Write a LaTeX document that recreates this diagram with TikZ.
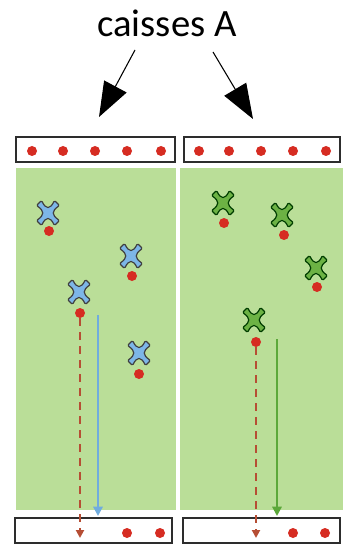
\documentclass[tikz,border=0pt]{standalone}
\usepackage{fontspec}
\setmainfont{Carlito}
\usetikzlibrary{arrows.meta}
\definecolor{field}{RGB}{186,222,152}
\definecolor{bluefill}{RGB}{125,182,232}
\definecolor{blueline}{RGB}{112,172,222}
\definecolor{greenfill}{RGB}{108,178,68}
\definecolor{greenline}{RGB}{92,168,58}
\definecolor{dotred}{RGB}{214,44,34}
\definecolor{dashred}{RGB}{182,78,52}
\definecolor{boxline}{RGB}{45,45,45}
\tikzset{
  reddot/.style={circle,fill=dotred,draw=none,minimum size=7.5pt,inner sep=0pt},
  caisse/.style={rectangle,draw=boxline,line width=1.5pt,fill=white,inner sep=0pt,minimum height=18.75pt},
  fieldbox/.style={fill=field,draw=none},
  runpath/.style={dashred,line width=1.9pt,dash pattern=on 6pt off 4.5pt,-{Triangle[length=6pt,width=6pt]}},
  bluerun/.style={blueline,line width=1.6pt,-{Triangle[length=7pt,width=7pt]}},
  greenrun/.style={greenline,line width=1.6pt,-{Triangle[length=7pt,width=7pt]}},
  bigarrow/.style={black,line width=0.8pt,-{Triangle[length=26pt,width=19pt]}},
  pics/cross/.style n args={2}{code={
    \filldraw[fill=#1,draw=#2,line width=0.9pt,rounded corners=1pt]
      (-6.5,-12.5) .. controls (-2,-3.5) and (2,-3.5) .. (6.5,-12.5) -- (11.5,-7.5)
      .. controls (3.5,-2) and (3.5,2) .. (11.5,7.5) -- (6.5,12.5)
      .. controls (2,3.5) and (-2,3.5) .. (-6.5,12.5) -- (-11.5,7.5)
      .. controls (-3.5,2) and (-3.5,-2) .. (-11.5,-7.5) -- cycle;
  }}
}
\begin{document}
\begin{tikzpicture}[x=0.75pt,y=-0.75pt]
\useasboundingbox (0,0) rectangle (353,545);
\fill[white] (0,0) rectangle (353,545);
% title
\node[font=\fontsize{29pt}{34pt}\selectfont,inner sep=0pt,anchor=base] (title) at (167,37) {caisses A};
\coordinate (tl) at (99,117);
\coordinate (tr) at (253,119);
\draw[bigarrow] (135,50) -- (tl);
\draw[bigarrow] (213,52) -- (tr);
% fields
\fill[fieldbox] (16,168) rectangle (176,510);
\fill[fieldbox] (180,168) rectangle (343,510);
% top boxes
\node[caisse,minimum width=119pt] (boxTL) at (95.5,149.5) {};
\node[caisse,minimum width=117pt] (boxTR) at (262,149.5) {};
\foreach \x [count=\i] in {32,63,95,127,161} \node[reddot] (tl\i) at (\x,151) {};
\foreach \x [count=\i] in {199,229,261,293,326} \node[reddot] (tr\i) at (\x,151) {};
% bottom boxes
\node[caisse,minimum width=117.75pt] (boxBL) at (93.5,530.5) {};
\node[caisse,minimum width=117.75pt] (boxBR) at (261.5,530.5) {};
\node[reddot] (bl1) at (127,533) {};
\node[reddot] (bl2) at (160,533) {};
\node[reddot] (br1) at (293,533) {};
\node[reddot] (br2) at (325,533) {};
% blue players
\pic at (48,213) {cross={bluefill}{black!75}};
\pic at (131,256) {cross={bluefill}{black!75}};
\pic at (79,292) {cross={bluefill}{black!75}};
\pic at (139,353) {cross={bluefill}{black!75}};
\node[reddot] (bd1) at (49,231) {};
\node[reddot] (bd2) at (132,276) {};
\node[reddot] (bd3) at (80,313) {};
\node[reddot] (bd4) at (139,374) {};
% green players
\pic at (223,203) {cross={greenfill}{black!60!green!60!black}};
\pic at (282,215) {cross={greenfill}{black!60!green!60!black}};
\pic at (316,268) {cross={greenfill}{black!60!green!60!black}};
\pic at (254,320) {cross={greenfill}{black!60!green!60!black}};
\node[reddot] (gd1) at (224,223) {};
\node[reddot] (gd2) at (284,235) {};
\node[reddot] (gd3) at (317,287) {};
\node[reddot] (gd4) at (256,342) {};
% runs
\coordinate (bend) at (80,538);
\coordinate (gend) at (256,538);
\coordinate (bstart) at (98,315);
\coordinate (bstop) at (98,516);
\coordinate (gstart) at (277,339);
\coordinate (gstop) at (277,516);
\draw[runpath] (bd3) -- (bend);
\draw[runpath] (gd4) -- (gend);
\draw[bluerun] (bstart) -- (bstop);
\draw[greenrun] (gstart) -- (gstop);
\end{tikzpicture}
\end{document}
